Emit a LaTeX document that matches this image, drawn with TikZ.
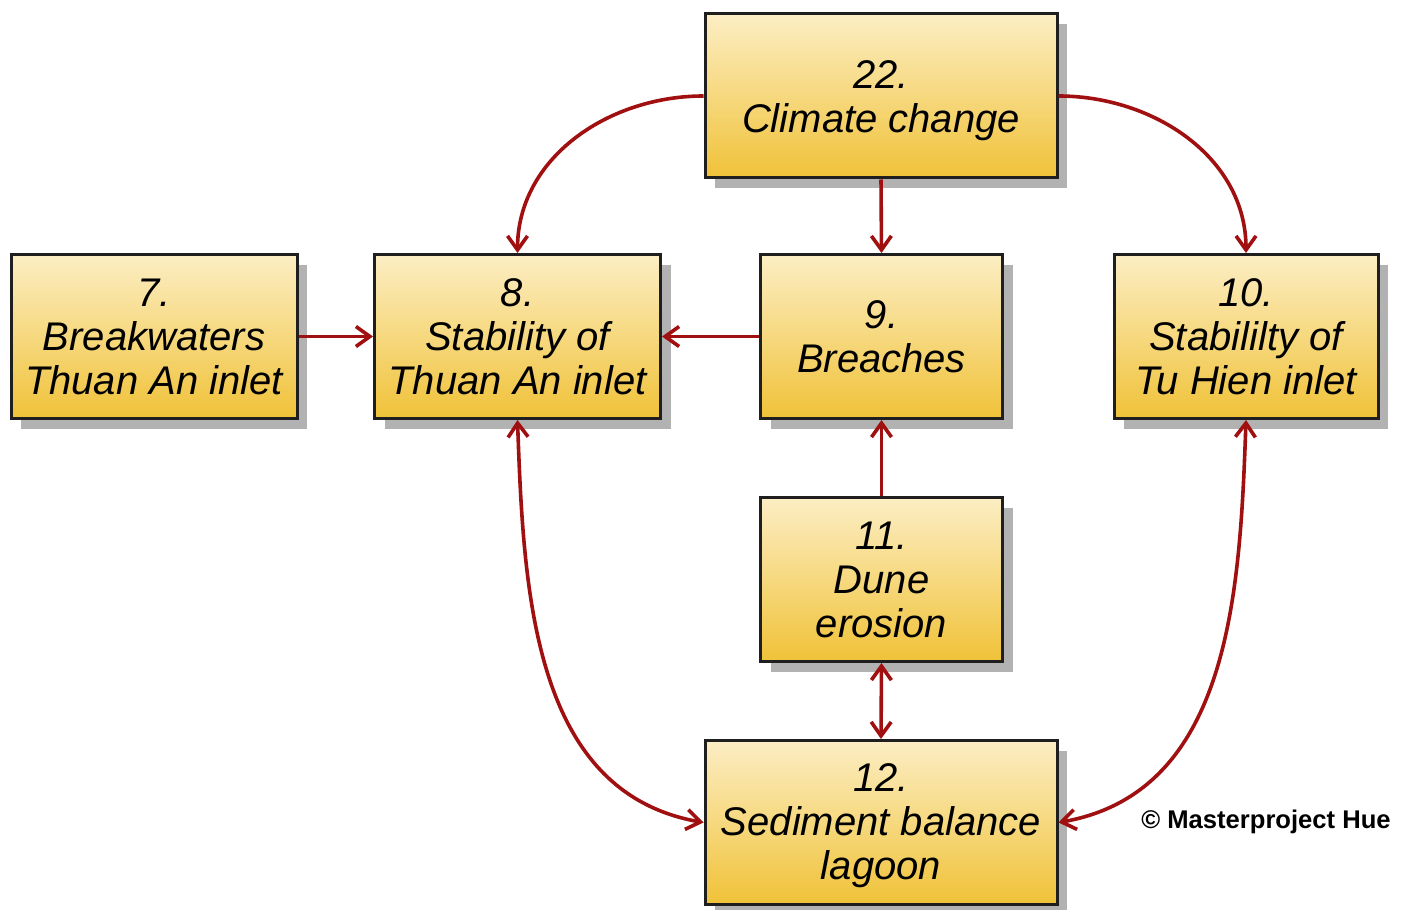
\documentclass[tikz,border=0pt]{standalone}
\usepackage{fontspec}
\setmainfont{Liberation Sans}
\usetikzlibrary{arrows.meta,shadows}
\definecolor{boxtop}{RGB}{252,238,196}
\definecolor{boxbot}{RGB}{240,194,56}
\definecolor{linkred}{RGB}{160,16,16}
\definecolor{shadegray}{RGB}{178,178,178}
\tikzset{
  >={Straight Barb[length=7pt,width=10pt]},
  factor/.style={draw=black!88, line width=1.5pt, top color=boxtop, bottom color=boxbot,
    align=center, inner sep=0pt, font=\fontsize{20}{22}\selectfont\itshape,
    drop shadow={shadow xshift=5pt, shadow yshift=-5pt, fill=shadegray, opacity=1}},
  link/.style={draw=linkred, line width=1.8pt, ->},
  twoway/.style={draw=linkred, line width=1.8pt, <->}
}
\begin{document}
\begin{tikzpicture}[x=0.5pt,y=-0.5pt]
\useasboundingbox (0,0) rectangle (1416,909);
\fill[white] (0,0) rectangle (1416,909);

% factors
\node[factor, minimum width=176pt, minimum height=82pt] (n22) at (881,96) {\rule{0pt}{19pt}22.\\Climate change};
\node[factor, minimum width=143pt, minimum height=82pt] (n7) at (154,336.5) {7.\\Breakwaters\\Thuan An inlet};
\node[factor, minimum width=143pt, minimum height=82pt] (n8) at (517.5,336.5) {8.\\Stability of\\Thuan An inlet};
\node[factor, minimum width=121pt, minimum height=82pt] (n9) at (881.5,336.5) {9.\\Breaches};
\node[factor, minimum width=132pt, minimum height=82pt] (n10) at (1246,336.5) {10.\\Stabililty of\\Tu Hien inlet};
\node[factor, minimum width=121pt, minimum height=82pt] (n11) at (881.5,579.5) {11.\\Dune\\erosion};
\node[factor, minimum width=176pt, minimum height=82pt] (n12) at (881,822.5) {\rule{0pt}{17.5pt}12.\\Sediment balance\\lagoon};

% influences
\draw[link] (n22.west) to[out=180, in=90] (n8.north);
\draw[link] (n22.east) to[out=0, in=90] (n10.north);
\draw[link] (n22.south) -- (n9.north);
\draw[link] (n7.east) -- (n8.west);
\draw[link] (n9.west) -- (n8.east);
\draw[link] (n11.north) -- (n9.south);
\draw[twoway] (n11.south) -- (n12.north);
\draw[twoway] (n8.south) to[out=-88, in=170] (n12.west);
\draw[twoway] (n10.south) to[out=-92, in=10] (n12.east);

\node[anchor=west, inner sep=0pt, font=\fontsize{12.8}{14}\selectfont\bfseries] (copy) at (1141,822) {© Masterproject Hue};
\end{tikzpicture}
\end{document}
